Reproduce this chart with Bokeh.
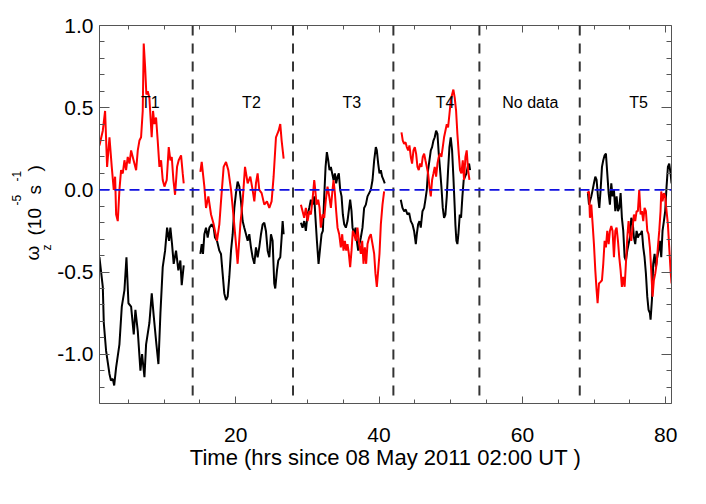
import math
from bokeh.plotting import figure
from bokeh.layouts import row
from bokeh.models import Range1d, LinearAxis, FixedTicker, Span, PrintfTickFormatter, ColumnDataSource
from bokeh.core.properties import value
from bokeh.embed import file_html
from bokeh.resources import INLINE

# ---------------- data ----------------
# interval boundaries (hrs) and interval labels
boundaries = [14, 28, 42, 54, 68]
seg_names = ["T1", "T2", "T3", "T4", "No data", "T5"]
seg_label_x = [8.1, 22.2, 36.2, 49.2, 61.1, 76.2]
seg_label_y = [0.53, 0.53, 0.53, 0.53, 0.53, 0.53]

# T1
t1_time_black = [0.99, 1.46, 1.60, 1.92, 2.39, 2.60, 2.85, 3.05, 3.32, 3.78, 4.11, 4.48, 4.76, 5.04, 5.41,
                 5.78, 6.01, 6.34, 6.71, 6.94, 7.27, 7.50, 7.96, 8.29, 8.57, 8.94, 9.22, 9.50, 9.82,
                 10.15, 10.43, 10.70, 10.89, 11.12, 11.35, 11.68, 12.00, 12.28, 12.47, 12.75]
t1_black = [-0.41, -0.59, -0.81, -0.98, -1.12, -1.16, -1.15, -1.19, -1.08, -0.94, -0.71, -0.61, -0.41, -0.69, -0.71,
            -0.88, -0.73, -0.86, -1.10, -1.00, -1.14, -0.94, -0.81, -0.63, -0.77, -0.94, -1.06, -0.75, -0.47,
            -0.37, -0.23, -0.31, -0.23, -0.33, -0.45, -0.37, -0.49, -0.43, -0.58, -0.46]
t1_time_red = [0.99, 1.46, 1.78, 2.06, 2.39, 2.71, 2.99, 3.18, 3.32, 3.55, 3.78, 4.01, 4.25, 4.48, 4.71,
               4.94, 5.18, 5.41, 5.64, 5.87, 6.11, 6.34, 6.57, 6.80, 7.03, 7.17, 7.36, 7.54, 7.73, 7.96,
               8.28, 8.47, 8.66, 8.89, 9.12, 9.36, 9.59, 9.82, 10.06, 10.38, 10.66, 10.89, 11.08, 11.31,
               11.54, 11.82, 12.05, 12.38, 12.61, 12.75]
t1_red = [0.27, 0.36, 0.48, 0.14, 0.32, 0.14, 0.00, 0.08, -0.15, -0.19, 0.00, 0.12, 0.10, 0.18, 0.12,
          0.20, 0.16, 0.24, 0.20, 0.16, 0.12, 0.24, 0.30, 0.32, 0.48, 0.89, 0.75, 0.58, 0.60, 0.56,
          0.32, 0.48, 0.40, 0.44, 0.30, 0.14, 0.18, 0.06, 0.02, 0.06, 0.26, 0.18, 0.20, 0.06,
          -0.03, 0.14, 0.18, 0.21, 0.10, 0.04]

# T2
t2_time_black = [15.07, 15.26, 15.44, 15.63, 15.86, 16.09, 16.33, 16.65, 16.93, 17.11,
                 17.39, 17.72, 17.95, 18.18, 18.41, 18.65, 18.88, 19.11, 19.35, 19.58,
                 19.81, 20.04, 20.27, 20.51, 20.74, 20.97, 21.20, 21.44, 21.67, 21.90,
                 22.13, 22.36, 22.60, 22.83, 23.06, 23.29, 23.53, 23.76, 23.99, 24.22,
                 24.46, 24.69, 24.92, 25.15, 25.38, 25.52, 25.76, 25.94, 26.22, 26.41,
                 26.55, 26.69]
t2_black = [-0.39, -0.33, -0.39, -0.27, -0.23, -0.29, -0.23, -0.21, -0.23, -0.29,
            -0.31, -0.37, -0.39, -0.51, -0.63, -0.67, -0.65, -0.53, -0.37, -0.27,
            -0.11, -0.02, 0.05, 0.02, -0.07, -0.19, -0.23, -0.27, -0.31, -0.27,
            -0.35, -0.41, -0.45, -0.35, -0.41, -0.35, -0.27, -0.21, -0.20, -0.25,
            -0.37, -0.41, -0.27, -0.31, -0.57, -0.60, -0.49, -0.43, -0.41, -0.29,
            -0.19, -0.27]
t2_time_red = [15.07, 15.26, 15.63, 15.86, 16.19, 16.56, 16.93, 17.39, 17.72, 17.95,
               18.32, 18.65, 18.97, 19.35, 19.72, 20.04, 20.27, 20.65, 20.97, 21.30,
               21.67, 22.04, 22.36, 22.60, 22.83, 23.06, 23.29, 23.62, 23.99, 24.36,
               24.69, 25.01, 25.29, 25.62, 25.99, 26.22, 26.41, 26.69]
t2_red = [0.11, 0.17, 0.02, -0.11, -0.04, -0.15, -0.21, -0.31, -0.21, -0.07,
          0.14, 0.17, 0.12, 0.00, -0.17, -0.33, -0.45, -0.21, -0.07, 0.14,
          0.04, 0.08, 0.00, -0.07, 0.04, 0.10, 0.00, -0.02, -0.09, -0.07,
          -0.11, -0.07, 0.08, 0.32, 0.36, 0.40, 0.30, 0.19]

# T3
t3_time_black = [29.10, 29.33, 29.56, 29.79, 30.03, 30.26, 30.49, 30.72, 30.96, 31.10,
                 31.33, 31.56, 31.79, 31.98, 32.16, 32.35, 32.54, 32.72, 32.91, 33.09,
                 33.28, 33.46, 33.65, 33.84, 34.02, 34.21, 34.39, 34.58, 34.77, 34.95,
                 35.14, 35.37, 35.60, 35.83, 35.97, 36.16, 36.30, 36.53, 36.72, 36.90,
                 37.09, 37.27, 37.46, 37.69, 37.92, 38.16, 38.39, 38.62, 38.85, 39.09,
                 39.32, 39.55, 39.69, 39.88, 40.06, 40.25, 40.43, 40.62, 40.80]
t3_black = [-0.20, -0.23, -0.19, -0.25, -0.15, -0.11, -0.06, -0.09, -0.04, -0.15,
            -0.31, -0.45, -0.35, -0.27, -0.25, -0.04, 0.14, 0.23, 0.18, 0.12,
            0.14, 0.10, 0.06, 0.10, 0.04, 0.08, 0.10, 0.00, -0.04, -0.15,
            -0.21, -0.23, -0.19, -0.11, -0.06, -0.13, -0.23, -0.27, -0.23, -0.31,
            -0.37, -0.33, -0.29, -0.23, -0.11, -0.09, -0.04, -0.02, 0.00, 0.06,
            0.18, 0.26, 0.24, 0.16, 0.10, 0.12, 0.08, 0.06, 0.04]
t3_time_red = [29.10, 29.33, 29.56, 29.79, 30.03, 30.26, 30.49, 30.72, 30.96, 31.10,
               31.28, 31.51, 31.70, 31.88, 32.12, 32.35, 32.58, 32.81, 33.05, 33.28,
               33.51, 33.65, 33.84, 34.02, 34.21, 34.44, 34.67, 34.86, 35.04, 35.23,
               35.42, 35.60, 35.79, 35.97, 36.16, 36.34, 36.53, 36.76, 36.99, 37.23,
               37.46, 37.65, 37.83, 38.02, 38.20, 38.39, 38.62, 38.85, 39.09, 39.32,
               39.50, 39.69, 39.88, 40.06, 40.25, 40.48, 40.71]
t3_red = [-0.09, -0.13, -0.17, -0.11, -0.19, -0.13, -0.15, -0.06, 0.06, 0.00,
          -0.09, -0.06, -0.11, -0.23, -0.15, -0.17, -0.06, 0.02, -0.04, -0.11,
          0.00, 0.06, -0.02, -0.13, -0.23, -0.27, -0.35, -0.27, -0.37, -0.31,
          -0.37, -0.33, -0.39, -0.47, -0.37, -0.25, -0.27, -0.31, -0.23, -0.33,
          -0.39, -0.31, -0.45, -0.35, -0.45, -0.33, -0.29, -0.27, -0.33, -0.39,
          -0.51, -0.59, -0.49, -0.39, -0.21, -0.09, -0.01]

# T4
t4_time_black = [43.03, 43.27, 43.50, 43.73, 43.96, 44.20, 44.43, 44.66, 44.89, 45.13,
                 45.27, 45.45, 45.64, 45.82, 46.06, 46.29, 46.47, 46.66, 46.84, 47.03,
                 47.22, 47.40, 47.59, 47.77, 47.96, 48.15, 48.33, 48.52, 48.70, 48.89,
                 49.07, 49.26, 49.45, 49.63, 49.82, 50.00, 50.19, 50.37, 50.56, 50.65,
                 50.79, 50.93, 51.07, 51.26, 51.44, 51.63, 51.81, 52.00, 52.19, 52.37,
                 52.56, 52.70]
t4_black = [-0.06, -0.11, -0.13, -0.12, -0.15, -0.14, -0.19, -0.21, -0.25, -0.33,
            -0.27, -0.21, -0.19, -0.23, -0.13, -0.11, -0.06, 0.00, 0.12, 0.18,
            0.24, 0.26, 0.30, 0.32, 0.36, 0.34, 0.22, 0.12, 0.02, -0.11,
            -0.17, -0.15, -0.04, 0.12, 0.26, 0.32, 0.24, 0.08, -0.11, -0.21,
            -0.31, -0.33, -0.27, -0.15, -0.17, -0.04, 0.06, 0.08, 0.10, 0.14,
            0.16, 0.12]
t4_time_red = [43.13, 43.31, 43.50, 43.69, 43.87, 44.06, 44.24, 44.43, 44.61, 44.80,
               44.99, 45.17, 45.36, 45.54, 45.73, 45.92, 46.10, 46.29, 46.47, 46.66,
               46.84, 47.03, 47.22, 47.40, 47.59, 47.77, 47.96, 48.15, 48.33, 48.52,
               48.70, 48.89, 49.07, 49.26, 49.45, 49.63, 49.82, 50.00, 50.19, 50.37,
               50.56, 50.75, 50.93, 51.12, 51.30, 51.49, 51.68, 51.86, 52.05, 52.23,
               52.42, 52.61]
t4_red = [0.35, 0.30, 0.28, 0.29, 0.26, 0.24, 0.27, 0.20, 0.16, 0.24,
          0.26, 0.22, 0.14, 0.12, 0.16, 0.14, 0.20, 0.22, 0.18, 0.14,
          0.10, 0.02, -0.04, 0.06, 0.10, 0.14, 0.08, 0.16, 0.20, 0.22,
          0.20, 0.26, 0.32, 0.36, 0.40, 0.38, 0.46, 0.54, 0.58, 0.61,
          0.56, 0.48, 0.34, 0.22, 0.12, 0.10, 0.18, 0.06, 0.20, 0.24,
          0.12, 0.06]

# T5
t5_time_black = [69.15, 69.29, 69.42, 69.61, 69.80, 69.98, 70.17, 70.35, 70.54, 70.73,
                 70.91, 71.10, 71.28, 71.47, 71.65, 71.84, 72.03, 72.21, 72.40, 72.58,
                 72.77, 72.96, 73.14, 73.33, 73.51, 73.70, 73.88, 74.07, 74.26, 74.44,
                 74.63, 74.81, 75.00, 75.19, 75.37, 75.56, 75.74, 75.93, 76.11, 76.30,
                 76.49, 76.67, 76.86, 77.04, 77.23, 77.42, 77.60, 77.79, 77.88, 78.07,
                 78.25, 78.44, 78.62, 78.81, 78.99, 79.18, 79.37, 79.55, 79.74, 79.92,
                 80.11, 80.30, 80.48, 80.67, 80.81]
t5_black = [-0.02, -0.09, -0.07, -0.04, 0.00, 0.04, 0.08, 0.06, -0.04, -0.11,
            0.00, 0.14, 0.18, 0.21, 0.22, 0.10, -0.02, -0.09, 0.04, -0.04,
            0.00, -0.13, -0.04, -0.13, -0.11, -0.02, -0.17, -0.25, -0.41, -0.43,
            -0.37, -0.33, -0.29, -0.17, -0.19, -0.29, -0.33, -0.25, -0.29, -0.27,
            -0.27, -0.25, -0.35, -0.41, -0.51, -0.65, -0.73, -0.75, -0.79, -0.67,
            -0.45, -0.39, -0.47, -0.41, -0.37, -0.31, -0.41, -0.25, -0.19, -0.13,
            0.02, 0.14, 0.16, 0.10, 0.04]
t5_time_red = [69.05, 69.29, 69.42, 69.61, 69.80, 69.98, 70.17, 70.35, 70.49, 70.68,
               70.91, 71.10, 71.28, 71.47, 71.65, 71.84, 72.03, 72.21, 72.40, 72.58,
               72.77, 72.96, 73.14, 73.33, 73.51, 73.70, 73.88, 74.07, 74.26, 74.44,
               74.63, 74.81, 75.00, 75.19, 75.37, 75.56, 75.74, 75.93, 76.11, 76.30,
               76.49, 76.67, 76.86, 77.04, 77.23, 77.42, 77.60, 77.79, 77.97, 78.16,
               78.34, 78.53, 78.72, 78.90, 79.09, 79.27, 79.37, 79.55, 79.74, 79.92,
               80.11, 80.30, 80.48, 80.67, 80.81]
t5_red = [-0.02, -0.01, -0.17, -0.09, -0.21, -0.33, -0.49, -0.61, -0.69, -0.57,
          -0.56, -0.55, -0.45, -0.31, -0.35, -0.25, -0.33, -0.25, -0.22, -0.25,
          -0.41, -0.25, -0.23, -0.31, -0.41, -0.49, -0.59, -0.53, -0.59, -0.45,
          -0.29, -0.19, -0.27, -0.31, -0.23, -0.15, -0.19, -0.13, -0.13, 0.00,
          -0.15, -0.13, -0.19, -0.11, -0.13, -0.25, -0.27, -0.35, -0.49, -0.65,
          -0.55, -0.51, -0.45, -0.35, -0.25, -0.13, -0.01, -0.07, -0.02, -0.04,
          -0.13, -0.21, -0.35, -0.49, -0.57]

x_major = [20, 40, 60, 80]
x_minor = [5, 10, 15, 25, 30, 35, 45, 50, 55, 65, 70, 75]
y_major = [-1.0, -0.5, 0.0, 0.5, 1.0]
y_minor = [-1.3, -1.2, -1.1, -0.9, -0.8, -0.7, -0.6, -0.4, -0.3, -0.2, -0.1,
           0.1, 0.2, 0.3, 0.4, 0.6, 0.7, 0.8, 0.9]

# y-axis title pieces: omega_z (10^-5 s^-1)
ylabel_parts = ["\u03c9", "z", "(10", "-5", "s", "-1", ")"]
ylabel_sizes = ["19px", "12px", "19px", "12px", "19px", "12px", "19px"]

# ---------------- layout ----------------
FONT = "Liberation Sans"
AX = "#555555"
X0, X1, Y0, Y1 = 1.0, 80.8, -1.3, 1.0
H = 488
LW = 54                       # width of the strip that carries the y title
W = 690 - LW
BL, BR, BT, BB = 98 - LW, 19, 25, 85

p = figure(width=W, height=H, output_backend="svg", toolbar_location=None,
           x_range=Range1d(X0, X1), y_range=Range1d(Y0, Y1),
           min_border_left=BL, min_border_right=BR, min_border_top=BT, min_border_bottom=BB)
p.grid.visible = False
p.outline_line_color = None


def style_axis(ax, tin, min_in, show_labels):
    ax.axis_line_color = AX
    ax.axis_line_width = 1
    ax.major_tick_line_color = AX
    ax.minor_tick_line_color = AX
    ax.major_tick_in = tin
    ax.major_tick_out = 0
    ax.minor_tick_in = min_in
    ax.minor_tick_out = 0
    ax.major_label_text_font = FONT
    if show_labels:
        ax.major_label_text_color = "black"
        ax.major_label_text_font_size = "21px"
    else:
        ax.major_label_text_color = None
        ax.major_label_text_font_size = "1px"
        ax.major_label_standoff = 0


xt = FixedTicker(ticks=x_major, minor_ticks=x_minor)
yt = FixedTicker(ticks=y_major, minor_ticks=y_minor)

xb = p.xaxis[0]
xb.ticker = xt
style_axis(xb, 7, 4, True)
xb.major_label_standoff = 24
xb.axis_label = "Time (hrs since 08 May 2011 02:00 UT )"
xb.axis_label_text_font = FONT
xb.axis_label_text_font_size = "22px"
xb.axis_label_text_font_style = "normal"
xb.axis_label_text_color = "black"
xb.axis_label_standoff = 0

yl = p.yaxis[0]
yl.ticker = yt
yl.formatter = PrintfTickFormatter(format="%.1f")
style_axis(yl, 10, 5, True)
yl.major_label_standoff = 6

xa = LinearAxis(ticker=xt)
style_axis(xa, 7, 4, False)
p.add_layout(xa, "above")
yr = LinearAxis(ticker=yt)
style_axis(yr, 10, 5, False)
p.add_layout(yr, "right")

# reference lines
for b in boundaries:
    p.add_layout(Span(location=b, dimension="height", line_color="#333333",
                      line_width=2, line_dash="10 8"))
p.add_layout(Span(location=0, dimension="width", line_color="#1010e0",
                  line_width=1.6, line_dash="10 5"))

# data
segments = [
    (t1_time_black, t1_black, t1_time_red, t1_red),
    (t2_time_black, t2_black, t2_time_red, t2_red),
    (t3_time_black, t3_black, t3_time_red, t3_red),
    (t4_time_black, t4_black, t4_time_red, t4_red),
    (t5_time_black, t5_black, t5_time_red, t5_red),
]
for tb, vb, tr, vr in segments:
    p.line(tb, vb, line_color="black", line_width=2)
    p.line(tr, vr, line_color="#ff0000", line_width=2)

p.text(x=seg_label_x, y=seg_label_y, text=seg_names, text_font=value(FONT),
       text_font_size="16px", text_align="center", text_baseline="middle", text_color="black")

# strip on the left carrying the rotated y title.
# The row aligns its frame with the main frame (pixel rows BT .. H-BB),
# so its y range is set to pixel units measured up from the bottom edge.
s = figure(width=LW, height=H, output_backend="svg", toolbar_location=None,
           x_range=Range1d(0, LW), y_range=Range1d(BB, H - BT),
           x_axis_location=None, y_axis_location=None,
           min_border_left=0, min_border_right=0, min_border_top=BT, min_border_bottom=BB)
s.grid.visible = False
s.outline_line_color = None
# baseline x and starting row (from top) of each piece
part_bx = [32, 46, 34, 16, 34, 16, 34]
part_top = [260, 250, 235, 205, 194, 181, 171]
part_y = [H - t for t in part_top]
src = ColumnDataSource(dict(x=part_bx, y=part_y, t=ylabel_parts, fs=ylabel_sizes))
s.text(x="x", y="y", text="t", source=src, text_font=value(FONT), text_font_size="fs",
       angle=math.pi / 2, text_align="left", text_baseline="alphabetic", text_color="black")

layout = row(s, p)
open("out.html", "w").write(file_html(layout, INLINE))
